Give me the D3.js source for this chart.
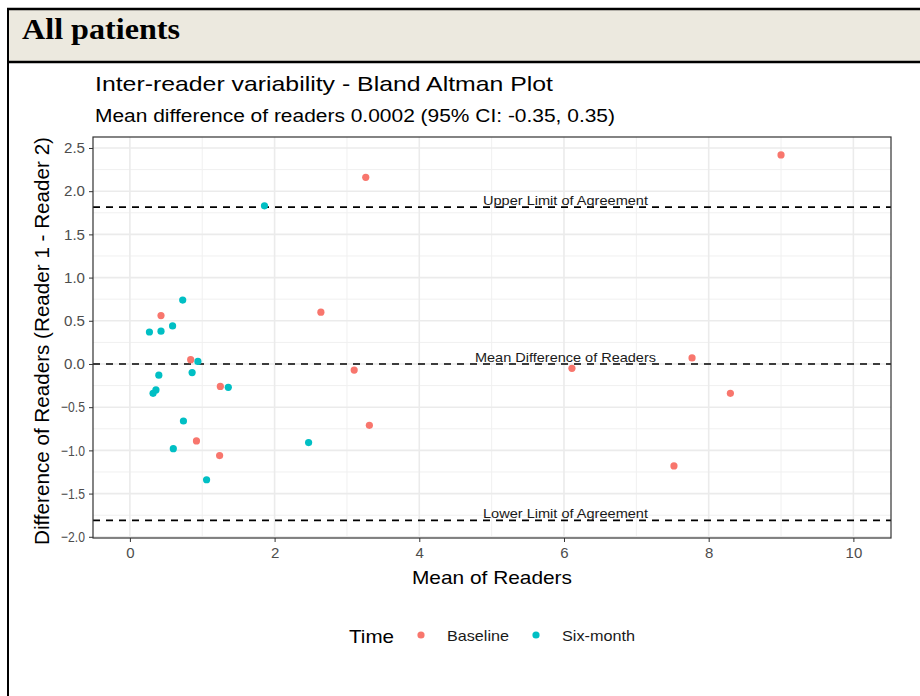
<!DOCTYPE html>
<html>
<head>
<meta charset="utf-8">
<script src="https://cdn.jsdelivr.net/npm/d3@7"></script>
<style>
  body { margin: 0; background: #fff; }
  svg text { font-family: "Liberation Sans", Arial, sans-serif; }
</style>
</head>
<body>
<svg id="chart" width="920" height="696"></svg>
<script>
// Data: mean of readers (x) and difference (y)
const baselineMean = [0.43, 0.84, 0.92, 1.24, 1.25, 2.64, 3.10, 3.26, 3.31, 6.11, 7.52, 7.77, 8.30, 9.00];
const baselineDiff = [0.56, 0.05, -0.89, -1.06, -0.26, 0.60, -0.07, 2.16, -0.71, -0.05, -1.18, 0.07, -0.34, 2.42];
const sixMonthMean = [0.27, 0.32, 0.36, 0.40, 0.43, 0.59, 0.60, 0.73, 0.74, 0.86, 0.94, 1.06, 1.36, 1.86, 2.47];
const sixMonthDiff = [0.37, -0.34, -0.30, -0.13, 0.38, 0.44, -0.98, 0.74, -0.66, -0.10, 0.03, -1.34, -0.27, 1.83, -0.91];

const meanDiff = 0.0002;
const upperLoA = 1.815;
const lowerLoA = -1.81;

const xTicks = [0, 2, 4, 6, 8, 10];
const yTicks = [-2.0, -1.5, -1.0, -0.5, 0.0, 0.5, 1.0, 1.5, 2.0, 2.5];

const groups = ["Baseline", "Six-month"];
const colors = { "Baseline": "#F8766D", "Six-month": "#00BFC4" };

const points = [
  ...baselineMean.map((m, i) => ({ x: m, y: baselineDiff[i], g: "Baseline" })),
  ...sixMonthMean.map((m, i) => ({ x: m, y: sixMonthDiff[i], g: "Six-month" }))
];

const svg = d3.select("#chart");

// the source image is a bit wider than tall, so stretch text to its width
function stretch(sel, len) {
  return sel.attr("textLength", len).attr("lengthAdjust", "spacingAndGlyphs");
}

// Header band
svg.append("rect").attr("x", 8).attr("y", 8).attr("width", 920).attr("height", 54)
  .attr("fill", "#ECE9DF");
svg.append("line").attr("x1", 7).attr("x2", 920).attr("y1", 9).attr("y2", 9)
  .attr("stroke", "#000").attr("stroke-width", 2.5);
svg.append("line").attr("x1", 7).attr("x2", 920).attr("y1", 62).attr("y2", 62)
  .attr("stroke", "#000").attr("stroke-width", 2.5);
svg.append("line").attr("x1", 8).attr("x2", 8).attr("y1", 8).attr("y2", 696)
  .attr("stroke", "#000").attr("stroke-width", 2);
stretch(svg.append("text").attr("x", 22).attr("y", 39)
  .style("font-family", "'Liberation Serif', 'Times New Roman', serif")
  .style("font-weight", "bold").style("font-size", "29px").attr("fill", "#000")
  .text("All patients"), 158);

// Plot area
const pLeft = 93, pRight = 891, pTop = 137, pBottom = 538;
const x = d3.scaleLinear().domain([-0.51, 10.52]).range([pLeft, pRight]);
const y = d3.scaleLinear().domain([-2.014, 2.627]).range([pBottom, pTop]);

const g = svg.append("g");

// Minor grid
const xMinor = [1, 3, 5, 7, 9];
const yMinor = [-1.75, -1.25, -0.75, -0.25, 0.25, 0.75, 1.25, 1.75, 2.25];
g.selectAll(".xminor").data(xMinor).enter().append("line")
  .attr("x1", d => x(d)).attr("x2", d => x(d)).attr("y1", pTop).attr("y2", pBottom)
  .attr("stroke", "#F0F0F0").attr("stroke-width", 1);
g.selectAll(".yminor").data(yMinor).enter().append("line")
  .attr("x1", pLeft).attr("x2", pRight).attr("y1", d => y(d)).attr("y2", d => y(d))
  .attr("stroke", "#F0F0F0").attr("stroke-width", 1);

// Major grid
g.selectAll(".xmajor").data(xTicks).enter().append("line")
  .attr("x1", d => x(d)).attr("x2", d => x(d)).attr("y1", pTop).attr("y2", pBottom)
  .attr("stroke", "#EBEBEB").attr("stroke-width", 1.6);
g.selectAll(".ymajor").data(yTicks).enter().append("line")
  .attr("x1", pLeft).attr("x2", pRight).attr("y1", d => y(d)).attr("y2", d => y(d))
  .attr("stroke", "#EBEBEB").attr("stroke-width", 1.6);

// Reference lines
const hlines = [
  { v: upperLoA, label: "Upper Limit of Agreement", w: 165 },
  { v: meanDiff, label: "Mean Difference of Readers", w: 181 },
  { v: lowerLoA, label: "Lower Limit of Agreement", w: 165 }
];
g.selectAll(".hline").data(hlines).enter().append("line")
  .attr("x1", pLeft).attr("x2", pRight).attr("y1", d => y(d.v)).attr("y2", d => y(d.v))
  .attr("stroke", "#000").attr("stroke-width", 1.6).attr("stroke-dasharray", "7,6");
g.selectAll(".hlabel").data(hlines).enter().append("text")
  .attr("x", x(6) + 1.5).attr("y", d => y(d.v) - 2)
  .attr("text-anchor", "middle").style("font-size", "13px").attr("fill", "#1a1a1a")
  .attr("textLength", d => d.w).attr("lengthAdjust", "spacingAndGlyphs")
  .text(d => d.label);

// Points
g.selectAll(".pt").data(points).enter().append("circle")
  .attr("cx", d => x(d.x)).attr("cy", d => y(d.y)).attr("r", 3.6)
  .attr("fill", d => colors[d.g]);

// Panel border
g.append("rect").attr("x", pLeft).attr("y", pTop).attr("width", pRight - pLeft).attr("height", pBottom - pTop)
  .attr("fill", "none").attr("stroke", "#333333").attr("stroke-width", 1.2);

// Axes
const xAxis = g.append("g").attr("transform", `translate(0,${pBottom})`)
  .call(d3.axisBottom(x).tickValues(xTicks).tickSize(4).tickPadding(5).tickFormat(d3.format("d")));
const yAxis = g.append("g").attr("transform", `translate(${pLeft},0)`)
  .call(d3.axisLeft(y).tickValues(yTicks).tickSize(4).tickPadding(4).tickFormat(d3.format(".1f")));
[xAxis, yAxis].forEach(a => {
  a.select(".domain").remove();
  a.selectAll(".tick line").attr("stroke", "#333333");
  a.selectAll(".tick text").attr("fill", "#4D4D4D").style("font-size", "15px");
});
yAxis.selectAll(".tick text").attr("textLength", d => d < 0 ? 24 : 21).attr("lengthAdjust", "spacingAndGlyphs");

// Titles
stretch(svg.append("text").attr("x", 95).attr("y", 91).style("font-size", "21px").attr("fill", "#000")
  .text("Inter-reader variability - Bland Altman Plot"), 458);
stretch(svg.append("text").attr("x", 95).attr("y", 122).style("font-size", "17.5px").attr("fill", "#000")
  .text("Mean difference of readers 0.0002 (95% CI: -0.35, 0.35)"), 520);

stretch(svg.append("text").attr("x", 492).attr("y", 584)
  .attr("text-anchor", "middle").style("font-size", "19px").attr("fill", "#000")
  .text("Mean of Readers"), 160);
svg.append("text").attr("transform", `translate(49,341) rotate(-90)`)
  .attr("text-anchor", "middle").style("font-size", "20px").attr("fill", "#000")
  .attr("textLength", 408).attr("lengthAdjust", "spacingAndGlyphs")
  .text("Difference of Readers (Reader 1 - Reader 2)");

// Legend
const legend = svg.append("g");
stretch(legend.append("text").attr("x", 349).attr("y", 643).style("font-size", "19px").attr("fill", "#000")
  .text("Time"), 45);
const legendX = { "Baseline": 421, "Six-month": 536 };
const legendW = { "Baseline": 62, "Six-month": 73 };
groups.forEach(k => {
  legend.append("circle").attr("cx", legendX[k]).attr("cy", 635).attr("r", 3.6).attr("fill", colors[k]);
  stretch(legend.append("text").attr("x", legendX[k] + 26).attr("y", 641)
    .style("font-size", "15px").attr("fill", "#1a1a1a").text(k), legendW[k]);
});
</script>
</body>
</html>
